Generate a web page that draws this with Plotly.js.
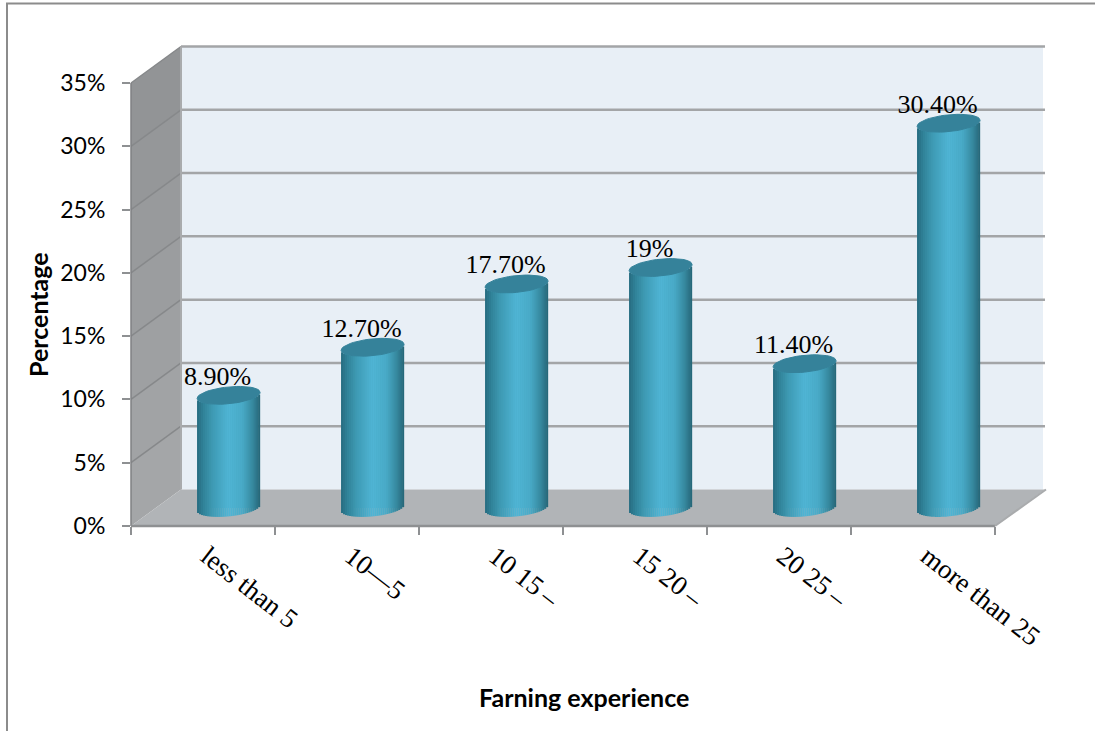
<!DOCTYPE html>
<html>
<head>
<meta charset="utf-8">
<script src="https://cdn.plot.ly/plotly-3.0.1.min.js"></script>
<style>html,body{margin:0;padding:0;background:#fff}#chart{width:1095px;height:731px}</style>
</head>
<body>
<div id="chart"></div>
<script>
// Farming experience distribution, drawn as 3D-style cylinders
var categories = ['\u2009less than 5', '\u200910\u20145', '\u200910 15\u2009\u2013', '\u200915 20\u2009\u2013', '\u200920 25\u2009\u2013', '\u2009more than 25'];
var values = [8.9, 12.7, 17.7, 19, 11.4, 30.4];
var valueLabels = ['8.90%', '12.70%', '17.70%', '19%', '11.40%', '30.40%'];
var yTicks = [0, 5, 10, 15, 20, 25, 30, 35];
var yTickLabels = ['0%', '5%', '10%', '15%', '20%', '25%', '30%', '35%'];

// Cylinder shading across the width, left edge to right edge
var shadeStops = [
  [0.00, [38, 108, 128]], [0.10, [48, 130, 152]], [0.25, [62, 154, 180]],
  [0.50, [79, 181, 213]], [0.72, [72, 170, 199]], [0.88, [54, 136, 158]], [1.00, [36, 100, 118]]
];
var capColor = '#35829a';

// Plot frame in pixels; the axes cover the front plane of the box
var W = 1095, H = 731;
var L = 131, R = 995, T = 83, B = 526;
var pxX = (R - L) / 6, pxY = (B - T) / 35;

// Depth of the box and position of the cylinders inside it
var depthX = 50, depthY = 36.5;
var offX = 25.6 / pxX, offY = 18 / pxY;
var rx = 31.5 / pxX, ry = 8.4 / pxY, tilt = 3.0 / pxY;
var sliceCount = 32;

function shade(t) {
  for (var i = 1; i < shadeStops.length; i++) {
    if (t <= shadeStops[i][0]) {
      var a = shadeStops[i - 1], b = shadeStops[i], f = (t - a[0]) / (b[0] - a[0]);
      return 'rgb(' + a[1].map(function (c, k) { return Math.round(c + (b[1][k] - c) * f); }).join(',') + ')';
    }
  }
  return 'rgb(36,100,118)';
}

// Paper coordinates of the box corners
function px(p) { return (p - L) / (R - L); }
function py(v) { return 1 - (v - T) / (B - T); }
function polygon(points, fill, line) {
  return {
    type: 'path', xref: 'paper', yref: 'paper', layer: 'below', fillcolor: fill,
    line: line || { width: 0 },
    path: 'M' + points.map(function (q) { return px(q[0]) + ',' + py(q[1]); }).join(' L') + ' Z'
  };
}
function segment(x0, y0, x1, y1, color, width) {
  return {
    type: 'line', xref: 'paper', yref: 'paper', layer: 'below',
    x0: px(x0), y0: py(y0), x1: px(x1), y1: py(y1),
    line: { color: color, width: width }
  };
}
function tickY(v) { return B - v * pxY; }

var shapes = [];
// Back wall
shapes.push(polygon([[L + depthX, T - depthY], [R + depthX - 2, T - depthY], [R + depthX - 2, B - depthY], [L + depthX, B - depthY]], '#e8eff6'));
// Side wall, one band per tick interval so it lightens toward the floor
for (var b = 0; b < yTicks.length - 1; b++) {
  var lo = tickY(yTicks[b]), hi = tickY(yTicks[b + 1]);
  var g = Math.round(164 - (b / 6) * 18);
  shapes.push(polygon([[L, lo], [L + depthX, lo - depthY], [L + depthX, hi - depthY], [L, hi]],
    'rgb(' + g + ',' + (g + 2) + ',' + (g + 4) + ')'));
}
// Floor
shapes.push(polygon([[L, B], [L + depthX, B - depthY], [R + depthX, B - depthY], [R, B]], '#b1b4b7'));
// Grid lines on the back and side walls
yTicks.forEach(function (v) {
  var y = tickY(v);
  if (v > 0) {
    shapes.push(segment(L + depthX, y - depthY, R + depthX, y - depthY, '#a3a5a7', 2.5));
    shapes.push(segment(L, y, L + depthX, y - depthY, '#86888a', 1.5));
  }
});
shapes.push(segment(L + depthX, T - depthY, L + depthX, B - depthY, '#a9abad', 2));
shapes.push(segment(L, T, L, B, '#7f8183', 1.5));
shapes.push(segment(L, B, R, B, '#8e9092', 2.5));
shapes.push(segment(R, B, R + depthX + 1, B - depthY, '#a9abad', 2));
// Outer chart border
shapes.push(segment(7, H, 7, 3.5, '#8c8c8c', 2));
shapes.push(segment(6, 3.5, W, 3.5, '#8c8c8c', 2));

// Cylinder body: vertical slices whose ends follow the elliptical rim
var sliceX = [], sliceY = [], sliceBase = [], sliceColor = [];
values.forEach(function (v, i) {
  for (var s = 0; s < sliceCount; s++) {
    var t = (s + 0.5) / sliceCount, u = 2 * t - 1;
    sliceX.push(i + offX + u * rx);
    sliceY.push(v);
    sliceBase.push(offY - ry * Math.sqrt(1 - u * u) + tilt * u);
    sliceColor.push(shade(t));
  }
});

// Cylinder tops, sitting on each value
var capX = [], capY = [];
values.forEach(function (v, i) {
  for (var a = 0; a <= 48; a++) {
    var ang = a / 48 * 2 * Math.PI, cu = Math.cos(ang);
    capX.push(i + offX + rx * cu);
    capY.push(v + offY + ry * Math.sin(ang) + tilt * cu);
  }
  capX.push(null); capY.push(null);
});

var labelX = values.map(function (v, i) { return i + offX - 11 / pxX; });
var labelY = values.map(function (v) { return v + offY + 17 / pxY; });
var positions = categories.map(function (c, i) { return i; });

var traces = [
  { type: 'bar', x: positions.map(function (p) { return p + offX; }), y: values,
    base: values.map(function () { return offY; }), width: 1.8 * rx,
    marker: { color: '#4aa8c4', line: { width: 0 } }, hoverinfo: 'skip', showlegend: false },
  { type: 'bar', x: sliceX, y: sliceY, base: sliceBase, width: 2 * rx / sliceCount + 0.001,
    marker: { color: sliceColor, line: { width: 0 } }, hoverinfo: 'skip', showlegend: false },
  { type: 'scatter', mode: 'lines', x: capX, y: capY, fill: 'toself', fillcolor: capColor,
    line: { color: capColor, width: 1 }, hoverinfo: 'skip', showlegend: false },
  { type: 'scatter', mode: 'text', x: labelX, y: labelY, text: valueLabels, textposition: 'middle center',
    textfont: { family: '"Liberation Serif", serif', size: 26, color: '#000' },
    cliponaxis: false, hoverinfo: 'skip', showlegend: false }
];

var layout = {
  width: W, height: H,
  margin: { l: L, r: W - R, t: T, b: H - B, pad: 0 },
  paper_bgcolor: '#fff', plot_bgcolor: 'rgba(0,0,0,0)',
  showlegend: false, barmode: 'overlay', shapes: shapes,
  xaxis: {
    range: [-0.5, 5.5], tickmode: 'array', tickvals: positions, ticktext: categories,
    tickangle: 38, ticks: '', ticklen: 0, ticklabelstandoff: 5, showgrid: false, zeroline: false, showline: false,
    tickfont: { family: '"Liberation Serif", serif', size: 27, color: '#000' },
    minor: { tickmode: 'array', tickvals: [-0.5, 0.5, 1.5, 2.5, 3.5, 4.5, 5.5], ticks: 'outside', ticklen: 8, tickwidth: 2, tickcolor: '#8e9092', showgrid: false }
  },
  yaxis: {
    range: [0, 35], tickmode: 'array', tickvals: yTicks, ticktext: yTickLabels,
    ticks: 'outside', ticklen: 8, tickwidth: 2, tickcolor: '#8e9092', ticklabelstandoff: 12,
    showgrid: false, zeroline: false, showline: false,
    tickfont: { family: 'Lato, sans-serif', size: 23, color: '#000' }
  },
  annotations: [
    { xref: 'paper', yref: 'paper', x: px(584), y: py(697), text: '<b>Farning experience</b>', showarrow: false,
      font: { family: 'Lato, sans-serif', size: 25, color: '#000' }, xanchor: 'center', yanchor: 'middle' },
    { xref: 'paper', yref: 'paper', x: px(38), y: py(315), text: '<b>Percentage</b>', showarrow: false, textangle: -90,
      font: { family: 'Lato, sans-serif', size: 25, color: '#000' }, xanchor: 'center', yanchor: 'middle' }
  ]
};

Plotly.newPlot('chart', traces, layout, { displayModeBar: false, staticPlot: true });
</script>
</body>
</html>
